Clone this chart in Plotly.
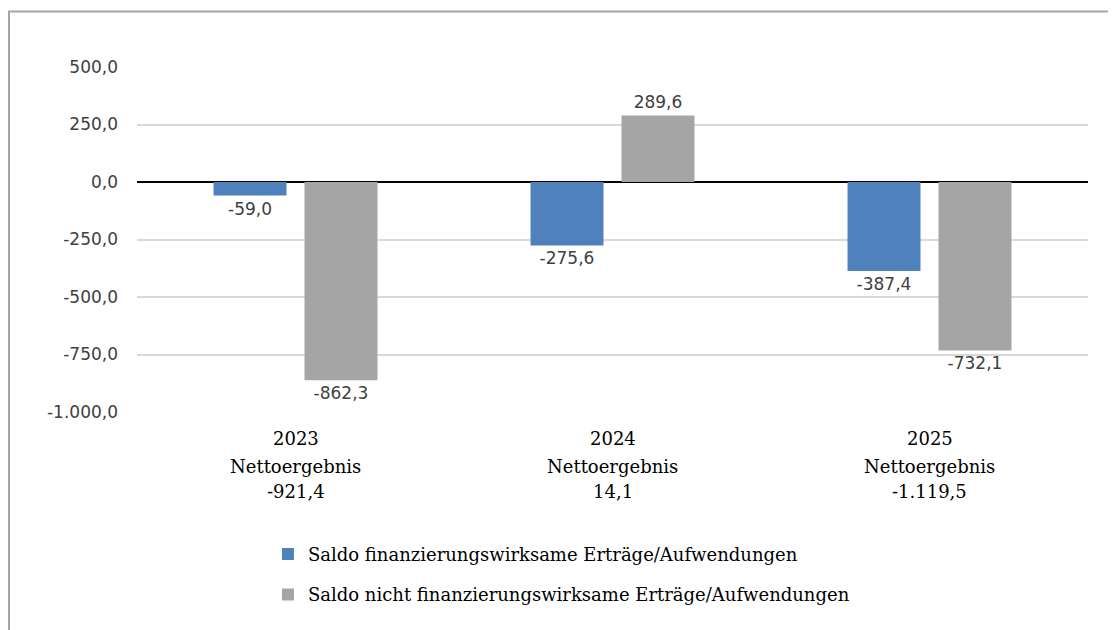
import plotly.graph_objects as go

years = ["2023", "2024", "2025"]
netto = ["-921,4", "14,1", "-1.119,5"]
series_names = ["Saldo finanzierungswirksame Erträge/Aufwendungen",
                "Saldo nicht finanzierungswirksame Erträge/Aufwendungen"]
finanz = [-59.0, -275.6, -387.4]
nicht_finanz = [-862.3, 289.6, -732.1]
tick_vals = [500, 250, 0, -250, -500, -750, -1000]
tick_text = ["500,0", "250,0", "0,0", "-250,0", "-500,0", "-750,0", "-1.000,0"]


def de_fmt(v):
    s = f"{abs(v):,.1f}".replace(",", "X").replace(".", ",").replace("X", ".")
    return ("-" if v < 0 else "") + s


colors = ["#4f81bd", "#a5a5a5"]
sans = "DejaVu Sans, Verdana, sans-serif"
serif = "DejaVu Serif, Liberation Serif, serif"
label_font = dict(family=sans, size=17, color="#404040")

fig = go.Figure()
for name, vals, col, grp in zip(series_names, [finanz, nicht_finanz], colors, ["a", "b"]):
    fig.add_trace(go.Bar(
        x=years, y=vals, name=name, marker=dict(color=col, line=dict(width=0)),
        text=[de_fmt(v) for v in vals], texttemplate="%{text}",
        textposition="outside", textfont=label_font,
        cliponaxis=False, legendgroup=grp,
    ))

# category labels (three lines each), positioned by category index
for i, (yr, nt) in enumerate(zip(years, netto)):
    for txt, shift in [(yr, -26), ("Nettoergebnis", -54), (nt, -79)]:
        fig.add_annotation(x=i, y=0, xref="x", yref="paper", text=txt, showarrow=False,
                           yshift=shift, yanchor="middle",
                           font=dict(family=serif, size=18, color="#000000"))

# outer frame
fig.add_shape(type="rect", xref="paper", yref="paper", x0=-0.1346, x1=1.2, y0=-0.8, y1=1.161,
              line=dict(color="#a6a6a6", width=2), fillcolor="rgba(0,0,0,0)", layer="below")

fig.update_layout(
    width=1116, height=630,
    margin=dict(l=129, r=36, t=59, b=226),
    paper_bgcolor="white", plot_bgcolor="white",
    barmode="group", bargap=0.426, bargroupgap=0.198,
    showlegend=True,
    legend=dict(x=0.1377, y=-0.359, xanchor="left", yanchor="top", orientation="v",
                traceorder="grouped", tracegroupgap=14,
                font=dict(family=serif, size=18, color="#000000"),
                bgcolor="rgba(0,0,0,0)"),
    xaxis=dict(type="category", range=[-0.5, 2.5], showticklabels=False, showgrid=False,
               zeroline=False, showline=False, ticks=""),
    yaxis=dict(range=[-1000, 500], tickvals=tick_vals, ticktext=tick_text,
               showgrid=True, gridcolor="#d9d9d9", gridwidth=1.5,
               zeroline=True, zerolinecolor="#000000", zerolinewidth=2,
               showline=False, ticks="", ticklabelstandoff=18, automargin=False,
               tickfont=dict(family=sans, size=17, color="#404040")),
)

fig.write_html("out.html")
